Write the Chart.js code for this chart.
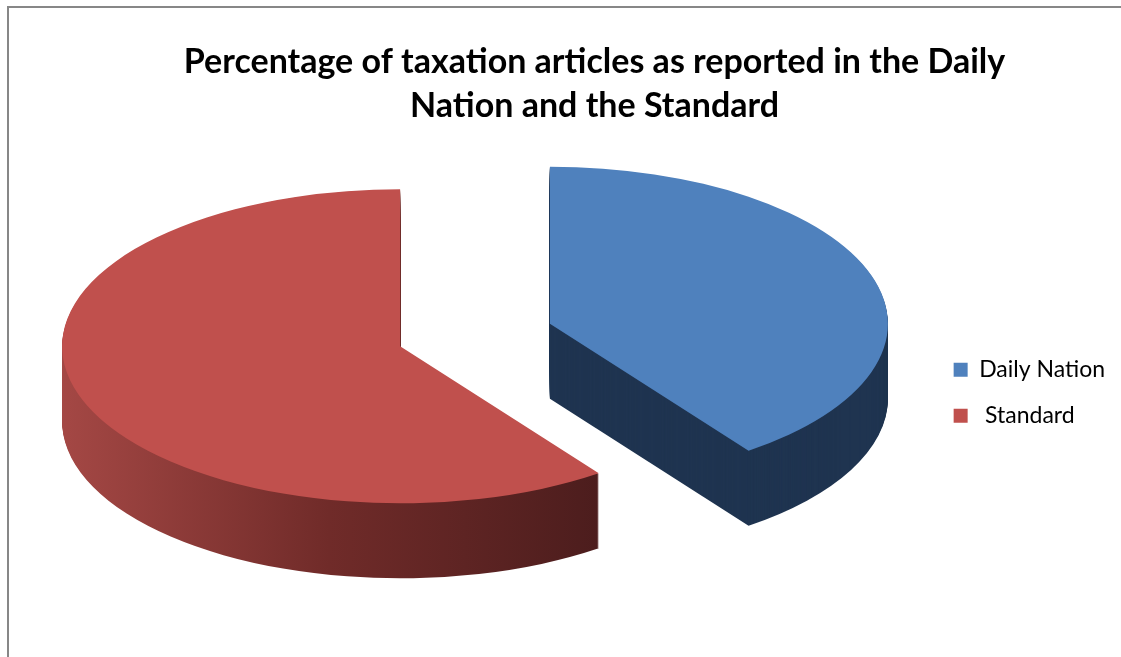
<!DOCTYPE html>
<html>
<head>
<meta charset="utf-8">
<script src="https://cdn.jsdelivr.net/npm/chart.js@4.4.0/dist/chart.umd.min.js"></script>
<style>
  body { margin: 0; background: #fff; }
  #wrap { position: relative; width: 1121px; height: 657px; }
</style>
</head>
<body>
<div id="wrap"><canvas id="pieChart" width="1121" height="657"></canvas></div>
<script>
// Chart data
const labels = ['Daily Nation', ' Standard'];
const values = [40, 60];
const topColors = ['#4F81BD', '#C0504D'];
const titleLines = ['Percentage of taxation articles as reported in the Daily', 'Nation and the Standard'];

// Look of the fake 3D pie (screen pixels)
const PIE_X = 475, PIE_Y = 335;   // centre of the un-exploded pie
const RX = 338, RY = 157;         // ellipse radii of the top face
const DEPTH = 75;                 // thickness of the pie
const EXPLODE = 0.233;            // slice offset, fraction of the radius

// side colour for each slice: a flat colour or a left->right gradient
function sideFill(ctx, i, toLocalX) {
    if (i === 0) return '#1F3450';
    const g = ctx.createLinearGradient(toLocalX(58), 0, toLocalX(600), 0);
    g.addColorStop(0, '#A54845');
    g.addColorStop(0.5, '#702B29');
    g.addColorStop(1, '#4C1D1D');
    return g;
}

const pie3d = {
    id: 'pie3d',
    beforeDatasetsDraw(chart) {
        const ctx = chart.ctx;
        const meta = chart.getDatasetMeta(0);
        const arcs = meta.data;
        if (!arcs.length) return false;
        const r = arcs[0].outerRadius;
        const sx = RX / r, sy = RY / r;

        arcs.forEach((arc, i) => {
            const mid = (arc.startAngle + arc.endAngle) / 2;
            const ox = Math.cos(mid) * EXPLODE * RX;
            const oy = Math.sin(mid) * EXPLODE * RY;
            const place = (dy) => {
                ctx.translate(PIE_X + ox, PIE_Y + oy + dy);
                ctx.scale(sx, sy);
                ctx.translate(-arc.x, -arc.y);
            };
            const toLocalX = (screenX) => arc.x + (screenX - PIE_X - ox) / sx;

            // side: stack copies of the slice downward
            for (let d = DEPTH; d >= 1; d--) {
                ctx.save();
                place(d);
                ctx.beginPath();
                ctx.moveTo(arc.x, arc.y);
                ctx.arc(arc.x, arc.y, arc.outerRadius, arc.startAngle, arc.endAngle);
                ctx.closePath();
                ctx.fillStyle = sideFill(ctx, i, toLocalX);
                ctx.fill();
                ctx.restore();
            }

            // top face drawn by the arc element itself
            ctx.save();
            place(0);
            arc.draw(ctx);
            ctx.restore();
        });
        return false;
    },
    afterDraw(chart) {
        // chart frame, only left and top edges are visible
        const ctx = chart.ctx;
        ctx.save();
        ctx.strokeStyle = '#878787';
        ctx.lineWidth = 2;
        ctx.beginPath();
        ctx.moveTo(8, 657);
        ctx.lineTo(8, 7);
        ctx.lineTo(1121, 7);
        ctx.stroke();
        ctx.restore();
    }
};

new Chart(document.getElementById('pieChart'), {
    type: 'pie',
    data: {
        labels: labels,
        datasets: [{
            data: values,
            backgroundColor: topColors,
            borderWidth: 0
        }]
    },
    options: {
        responsive: false,
        animation: false,
        devicePixelRatio: 1,
        rotation: 0,
        layout: { padding: { top: 40, right: 6, bottom: 0, left: 74 } },
        plugins: {
            title: {
                display: true,
                text: titleLines,
                color: '#000',
                font: { family: 'Lato', size: 34, weight: 'bold', lineHeight: 1.3 },
                padding: { top: 0, bottom: 0 }
            },
            legend: {
                position: 'right',
                fullSize: false,
                labels: {
                    boxWidth: 14,
                    boxHeight: 14,
                    padding: 23,
                    color: '#000',
                    font: { family: 'Lato', size: 23 }
                }
            },
            tooltip: { enabled: false }
        }
    },
    plugins: [pie3d]
});
</script>
</body>
</html>
